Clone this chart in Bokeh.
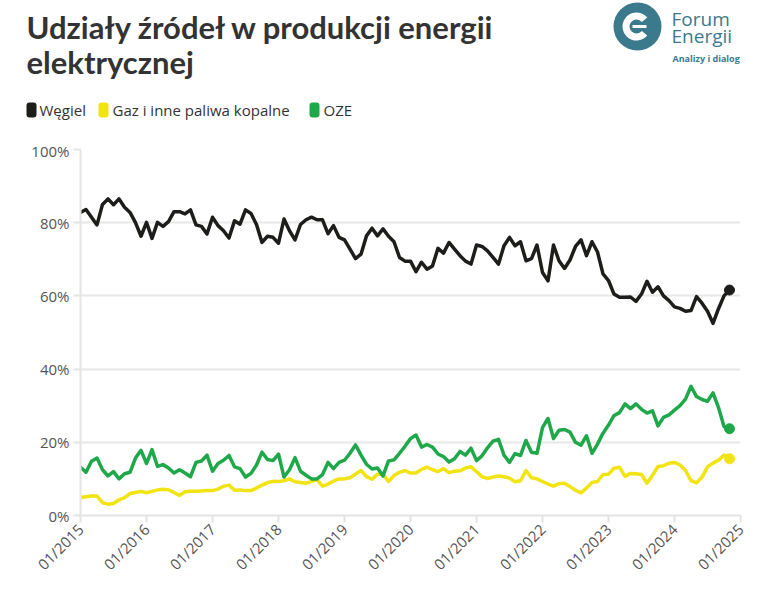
import math
from bokeh.plotting import figure
from bokeh.layouts import column, row
from bokeh.models import Range1d, FixedTicker, BoxAnnotation
from bokeh.core.properties import value
from bokeh.embed import file_html
from bokeh.resources import INLINE

# ---------------- data ----------------
x_tick_labels = ["01/2015", "01/2016", "01/2017", "01/2018", "01/2019", "01/2020",
                 "01/2021", "01/2022", "01/2023", "01/2024", "01/2025"]
y_tick_labels = ["0%", "20%", "40%", "60%", "80%", "100%"]
series_names = ["Węgiel", "Gaz i inne paliwa kopalne", "OZE"]

# monthly shares (%), Jan 2015 .. Nov 2024
coal = [82.8, 83.6, 81.5, 79.4, 85.0, 86.5, 84.9, 86.5, 84.2, 82.8, 80.0, 76.3, 80.1, 75.7, 80.1,
        79.0, 80.3, 83.0, 83.0, 82.4, 83.5, 79.4, 79.0, 76.9, 81.5, 79.2, 77.8, 75.8, 80.5, 79.6,
        83.5, 82.5, 79.5, 74.6, 76.3, 76.0, 74.4, 81.0, 77.8, 75.3, 79.5, 80.8, 81.5, 80.8, 80.8,
        77.0, 79.2, 76.0, 75.3, 72.8, 70.2, 71.4, 76.4, 78.5, 76.4, 78.3, 76.3, 74.8, 70.5, 69.5,
        69.5, 66.6, 69.2, 67.3, 68.2, 73.0, 71.7, 74.6, 72.8, 71.0, 69.5, 68.7, 73.9, 73.5, 72.3,
        70.5, 68.7, 73.7, 76.0, 73.7, 74.8, 69.6, 70.2, 73.9, 66.4, 64.1, 73.9, 69.6, 67.5, 69.8,
        73.5, 75.3, 71.0, 74.8, 72.0, 66.0, 64.2, 60.5, 59.6, 59.6, 59.7, 58.5, 60.5, 64.0, 61.0,
        62.5, 60.0, 58.7, 57.0, 56.6, 55.8, 56.0, 59.8, 58.0, 55.8, 52.5, 56.5, 60.0, 61.6]

gas = [4.9, 5.1, 5.3, 5.3, 3.5, 3.1, 3.3, 4.3, 4.9, 6.0, 6.3, 6.6, 6.2, 6.6, 7.0,
       7.2, 7.0, 6.3, 5.5, 6.5, 6.6, 6.6, 6.7, 6.8, 6.8, 7.2, 8.0, 8.3, 6.9, 7.0,
       6.8, 6.8, 7.5, 8.3, 9.0, 9.3, 9.3, 9.5, 10.0, 9.2, 9.0, 8.8, 9.3, 9.8, 8.0,
       8.6, 9.4, 10.0, 10.0, 10.3, 11.3, 12.3, 10.6, 9.9, 11.3, 11.3, 9.3, 10.9, 11.8, 12.3,
       11.6, 11.6, 12.6, 13.2, 12.5, 12.0, 12.8, 11.7, 12.1, 12.2, 13.0, 13.3, 12.0, 10.6, 10.1,
       10.5, 10.8, 10.6, 10.2, 9.2, 9.5, 12.3, 10.3, 10.0, 9.3, 8.6, 8.0, 8.7, 8.8, 7.9,
       6.9, 6.2, 7.5, 9.0, 9.3, 11.2, 11.3, 12.9, 13.2, 10.7, 11.5, 11.4, 11.2, 8.8, 11.0,
       13.4, 13.6, 14.3, 14.5, 13.8, 12.3, 9.5, 8.9, 10.5, 13.3, 14.3, 15.1, 16.5, 15.5]

oze = [13.2, 11.8, 14.8, 15.7, 12.5, 10.8, 12.0, 10.0, 11.4, 11.8, 15.7, 17.8, 14.2, 18.0, 13.4,
       13.9, 13.0, 11.6, 12.5, 11.6, 10.6, 14.5, 14.9, 16.5, 12.1, 14.2, 15.1, 16.4, 13.3, 12.8,
       10.5, 11.5, 13.8, 17.3, 15.3, 15.0, 16.8, 10.5, 12.5, 15.8, 12.1, 11.0, 10.0, 10.0, 11.2,
       14.5, 12.8, 14.5, 15.1, 17.0, 19.3, 16.5, 14.0, 12.7, 13.0, 10.8, 14.9, 15.2, 17.0, 18.9,
       21.0, 22.0, 18.7, 19.4, 18.7, 16.8, 16.1, 14.6, 15.5, 17.5, 16.5, 18.4, 15.0, 16.3, 18.5,
       20.3, 20.8, 16.5, 14.5, 16.9, 16.4, 20.5, 17.3, 17.0, 24.0, 26.5, 21.0, 23.3, 23.5, 22.8,
       20.0, 19.2, 21.8, 17.0, 19.5, 22.5, 24.7, 27.3, 28.1, 30.5, 29.2, 30.5, 29.0, 28.0, 28.6,
       24.5, 26.8, 27.5, 28.8, 30.0, 31.8, 35.3, 32.5, 31.7, 31.2, 33.5, 29.5, 24.3, 23.7]

months = list(range(len(coal)))  # month index from Jan 2015

# ---------------- style ----------------
COAL_C = "#1d1d1b"
GAS_C = "#f2e313"
OZE_C = "#1fa84a"
LOGO_C = "#3b7a8c"
FONT = "Open Sans"
TITLE_FONT = "Lato"

W = 757
HEAD_H = 140
CHART_H = 453

# ---------------- header (title, legend, logo) ----------------
h = figure(width=W, height=HEAD_H, output_backend="svg", toolbar_location=None,
           x_range=Range1d(0, W), y_range=Range1d(HEAD_H, 0),
           x_axis_type=None, y_axis_type=None,
           min_border_left=0, min_border_right=0, min_border_top=0, min_border_bottom=0)
h.grid.visible = False
h.outline_line_color = None
h.background_fill_color = "white"
h.border_fill_color = "white"

h.text(x=[26, 26], y=[26, 61], text=["Udziały źródeł w produkcji energii", "elektrycznej"],
       text_font=value(TITLE_FONT), text_font_style="bold", text_font_size=value("31px"),
       text_color="#333333", text_baseline="middle", text_align="left")

legend_sq_x = [26, 98, 309]
legend_tx_x = [39, 112, 323]
legend_cols = [COAL_C, GAS_C, OZE_C]
for sx, col in zip(legend_sq_x, legend_cols):
    h.add_layout(BoxAnnotation(left=sx, right=sx + 10, top=102, bottom=117,
                               fill_color=col, fill_alpha=1, line_color=None, border_radius=3))
h.text(x=legend_tx_x, y=[109] * 3, text=series_names, text_font=value(FONT),
       text_font_size=value("15px"), text_color="#333333", text_baseline="middle",
       text_align="left")

# logo
cx, cy = 637, 26
h.circle(x=[cx], y=[cy], radius=24, fill_color=LOGO_C, line_color=None)
h.annular_wedge(x=[cx - 1], y=[cy], inner_radius=7, outer_radius=14,
                start_angle=math.radians(40), end_angle=math.radians(320),
                fill_color="white", line_color=None)
h.quad(left=[cx - 5], right=[cx + 9], top=[cy - 1.6], bottom=[cy + 1.6],
       fill_color="white", line_color=None)
h.text(x=[671, 671], y=[18, 35], text=["Forum", "Energii"], text_font=value(FONT),
       text_font_size=value("19px"), text_color=LOGO_C, text_baseline="middle")
h.text(x=[672], y=[58], text=["Analizy i dialog"], text_font=value(FONT),
       text_font_size=value("9px"), text_font_style="bold", text_color=LOGO_C,
       text_baseline="middle")

# ---------------- chart ----------------
F_LEFT, F_RIGHT, F_TOP, F_BOTTOM = 80, 740, 9, 375   # frame in canvas px
p = figure(width=W, height=CHART_H, output_backend="svg", toolbar_location=None,
           x_range=Range1d(0, 120), y_range=Range1d(0, 100),
           min_border_left=F_LEFT, min_border_right=W - F_RIGHT,
           min_border_top=F_TOP, min_border_bottom=CHART_H - F_BOTTOM)
p.outline_line_color = None
p.background_fill_color = "white"
p.border_fill_color = "white"

p.xaxis.ticker = FixedTicker(ticks=[12 * i for i in range(len(x_tick_labels))])
p.xaxis.major_label_overrides = {12 * i: t for i, t in enumerate(x_tick_labels)}
p.xaxis.major_label_orientation = math.pi / 4
p.yaxis.ticker = FixedTicker(ticks=[20 * i for i in range(len(y_tick_labels))])
p.yaxis.major_label_overrides = {20 * i: t for i, t in enumerate(y_tick_labels)}
for ax in (p.xaxis, p.yaxis):
    ax.axis_line_color = "#e4e4e4"
    ax.axis_line_width = 2
    ax.major_tick_line_color = "#e4e4e4"
    ax.major_tick_line_width = 2
    ax.major_tick_in = 0
    ax.major_tick_out = 7
    ax.minor_tick_line_color = None
    ax.major_label_text_font = FONT
    ax.major_label_text_font_size = "15px"
    ax.major_label_text_color = "#555555"
    ax.major_label_standoff = 4
p.xgrid.grid_line_color = None
p.ygrid.grid_line_color = "#e8e8e8"
p.ygrid.grid_line_width = 2

for vals, col in ((gas, GAS_C), (oze, OZE_C), (coal, COAL_C)):
    p.line(months, vals, line_width=3.5, color=col, line_join="round", line_cap="round")
    p.scatter([months[-1]], [vals[-1]], size=10, color=col)

layout = column(row(h), p, spacing=0)
open("out.html", "w").write(file_html(layout, INLINE))
